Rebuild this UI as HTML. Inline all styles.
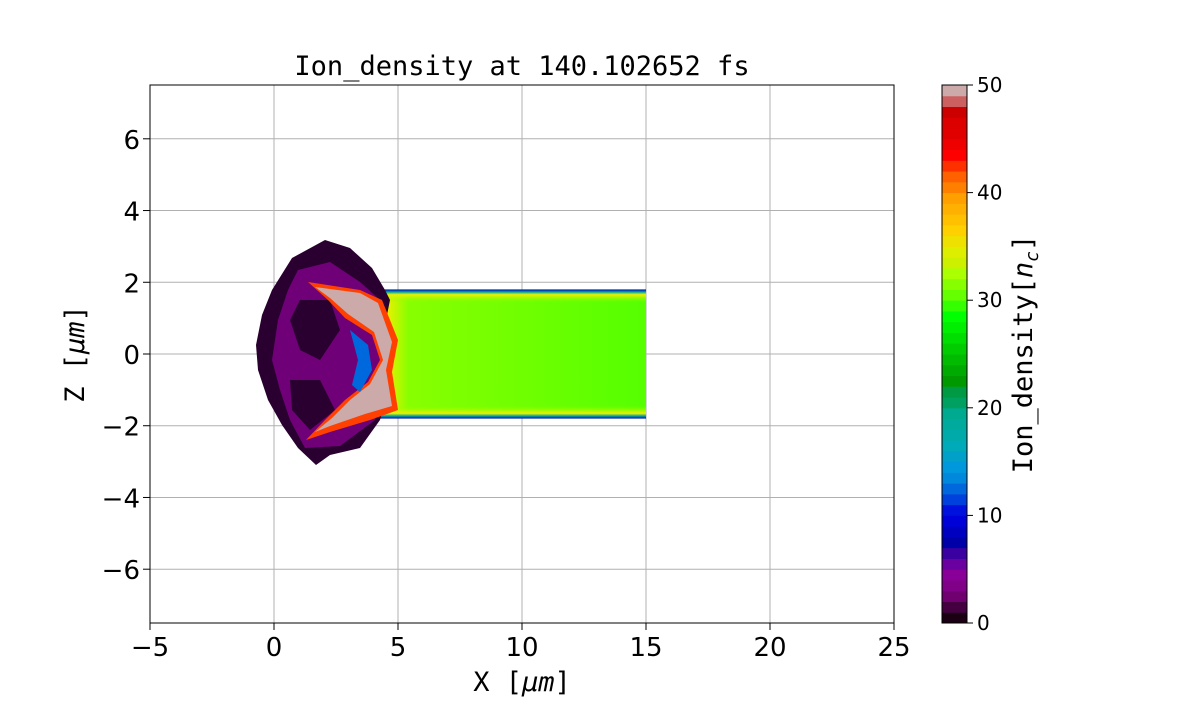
<!DOCTYPE html>
<html><head><meta charset="utf-8"><style>
body{margin:0;background:#fff}
svg text{fill:#000}
.t{font-family:"DejaVu Sans","Liberation Sans",sans-serif}
.m{font-family:"DejaVu Sans Mono","Liberation Mono",monospace}
</style></head><body>
<svg id="c" width="1200" height="700" xmlns="http://www.w3.org/2000/svg">
<defs>
<linearGradient id="fade" x1="0" x2="1" y1="0" y2="0">
<stop offset="0" stop-color="#ffc000"/><stop offset="0.08" stop-color="#eef000"/><stop offset="0.16" stop-color="#88ff00"/><stop offset="1" stop-color="#55ff00"/>
</linearGradient>
<linearGradient id="vband" x1="0" x2="0" y1="0" y2="1">
<stop offset="0" stop-color="#0000c0"/><stop offset="0.02" stop-color="#00aaa0"/><stop offset="0.04" stop-color="#eef000"/><stop offset="0.1" stop-color="#88ff00" stop-opacity="0"/><stop offset="0.9" stop-color="#88ff00" stop-opacity="0"/><stop offset="0.96" stop-color="#eef000"/><stop offset="0.98" stop-color="#00aaa0"/><stop offset="1" stop-color="#0000c0"/>
</linearGradient>
<clipPath id="pc"><rect x="150" y="85" width="744" height="538"/></clipPath>
</defs>
<g id="grid"></g>
<g id="heat" clip-path="url(#pc)"></g>
<rect x="150" y="85" width="744" height="538" fill="none" stroke="#000" stroke-width="1"/>
<g id="axes"></g>
<text class="m" x="522" y="75" font-size="27" text-anchor="middle">Ion_density at 140.102652 fs</text>
<text class="m" x="522" y="691" font-size="27" text-anchor="middle">X [<tspan font-style="italic">μm</tspan>]</text>
<text class="m" x="84" y="354" font-size="27" text-anchor="middle" transform="rotate(-90 84 354)">Z [<tspan font-style="italic">μm</tspan>]</text>
<g id="cbar"></g>
<text class="m" x="1032" y="354" font-size="27" text-anchor="middle" transform="rotate(-90 1032 354)">Ion_density[<tspan font-style="italic">n</tspan><tspan font-style="italic" font-size="18" dy="6">c</tspan><tspan dy="-6">]</tspan></text>
</svg>
<script>
const xTicks=[-5,0,5,10,15,20,25];
const zTicks=[-6,-4,-2,0,2,4,6];
const cbTicks=[0,10,20,30,40,50];
const cbColors=["#1a0012","#440040","#700070","#800088","#880098","#6a00a0","#3a00a0","#0000a8","#0000c0","#0000d8","#0010dd","#0040dd","#0068dd","#0088dd","#0098dd","#00a0c8","#00aab8","#00aaa8","#00aa9c","#00aa90","#00a060","#009944","#009900","#00aa00","#00bb00","#00cc00","#00dd00","#00ee00","#00ff00","#33ff00","#66ff00","#88ff00","#aaff00","#ccf000","#ddee00","#eee000","#ffd000","#ffc000","#ffb000","#ffa000","#ff8000","#ff6000","#ff3000","#ff0000","#ee0000","#e00000","#dd0000","#cc0000","#cc6060","#ccaaaa"];
const slab={x0:3.6,x1:15,z0:-1.8,z1:1.8};
const NS="http://www.w3.org/2000/svg";
const X=v=>150+(v+5)/30*744, Z=v=>623-(v+7.5)/15*538, C=v=>623-v/50*538;
function mk(t,a,p){const e=document.createElementNS(NS,t);for(const k in a)e.setAttribute(k,a[k]);p.appendChild(e);return e;}
const grid=document.getElementById('grid'),axes=document.getElementById('axes'),heat=document.getElementById('heat'),cb=document.getElementById('cbar');
xTicks.forEach(v=>{
 const g=mk('line',{x1:X(v),x2:X(v),y1:85,y2:623,stroke:'#b0b0b0','stroke-width':1},grid);
 
 
 mk('line',{x1:X(v),x2:X(v),y1:623,y2:630,stroke:'#000'},axes);
 const t=mk('text',{x:X(v),y:656,'font-size':26,'text-anchor':'middle',class:'t'},axes);
 t.textContent=v<0?'−'+(-v):v;
 
 
});
zTicks.forEach(v=>{
 const g=mk('line',{x1:150,x2:894,y1:Z(v),y2:Z(v),stroke:'#b0b0b0','stroke-width':1},grid);
 
 
 mk('line',{x1:143,x2:150,y1:Z(v),y2:Z(v),stroke:'#000'},axes);
 const t=mk('text',{x:140,y:Z(v)+10,'font-size':26,'text-anchor':'end',class:'t'},axes);
 t.textContent=v<0?'−'+(-v):v;
 
 
});
const sx=X(slab.x0),sw=X(slab.x1)-sx,sy=Z(slab.z1),sh=Z(slab.z0)-sy;
const r1=mk('rect',{x:sx,y:sy,width:sw,height:sh,fill:'url(#fade)'},heat);


mk('rect',{x:sx,y:sy,width:sw,height:sh,fill:'url(#vband)'},heat);
const blob=[
 ['M292,258 L325,240 L350,248 L372,268 L385,290 L390,300 L384,330 L392,380 L380,420 L360,448 L330,455 L316,465 L298,448 L282,425 L268,400 L258,370 L256,345 L262,315 L272,290 Z','#2a0030'],
 ['M298,270 L330,262 L360,282 L380,300 L386,360 L375,420 L340,446 L305,448 L290,420 L280,390 L272,360 L278,320 L288,290 Z','#700078'],
 ['M300,300 L330,300 L340,330 L320,360 L300,350 L290,320 Z','#2a0030'],
 ['M290,380 L320,380 L335,410 L310,430 L292,410 Z','#2a0030'],
 ['M308,282 L360,290 L382,300 L398,340 L392,372 L398,410 L370,420 L330,432 L306,440 L325,420 L345,400 L368,382 L380,360 L372,335 L345,318 L328,300 Z','#ff4000'],
 ['M315,287 L360,293 L378,303 L392,342 L386,370 L392,406 L365,414 L330,426 L315,432 L332,418 L350,400 L370,384 L383,360 L374,332 L348,314 L330,298 Z','#ccaaaa'],
 ['M350,330 L368,345 L372,370 L360,392 L352,385 L358,360 Z','#0068dd'],
];
blob.forEach(b=>{const p=mk('path',{d:b[0],fill:b[1]},heat);
 
 });
cbColors.forEach((col,i)=>{
 const r=mk('rect',{x:942,y:C(i+1),width:25,height:C(i)-C(i+1)+0.5,fill:col},cb);
 
 
});
mk('rect',{x:942,y:85,width:25,height:538,fill:'none',stroke:'#000'},cb);
cbTicks.forEach(v=>{
 mk('line',{x1:967,x2:973,y1:C(v),y2:C(v),stroke:'#000'},cb);
 const t=mk('text',{x:977,y:C(v)+7,'font-size':20,class:'t'},cb);
 t.textContent=v;
 
 
});
</script>
</body></html>
